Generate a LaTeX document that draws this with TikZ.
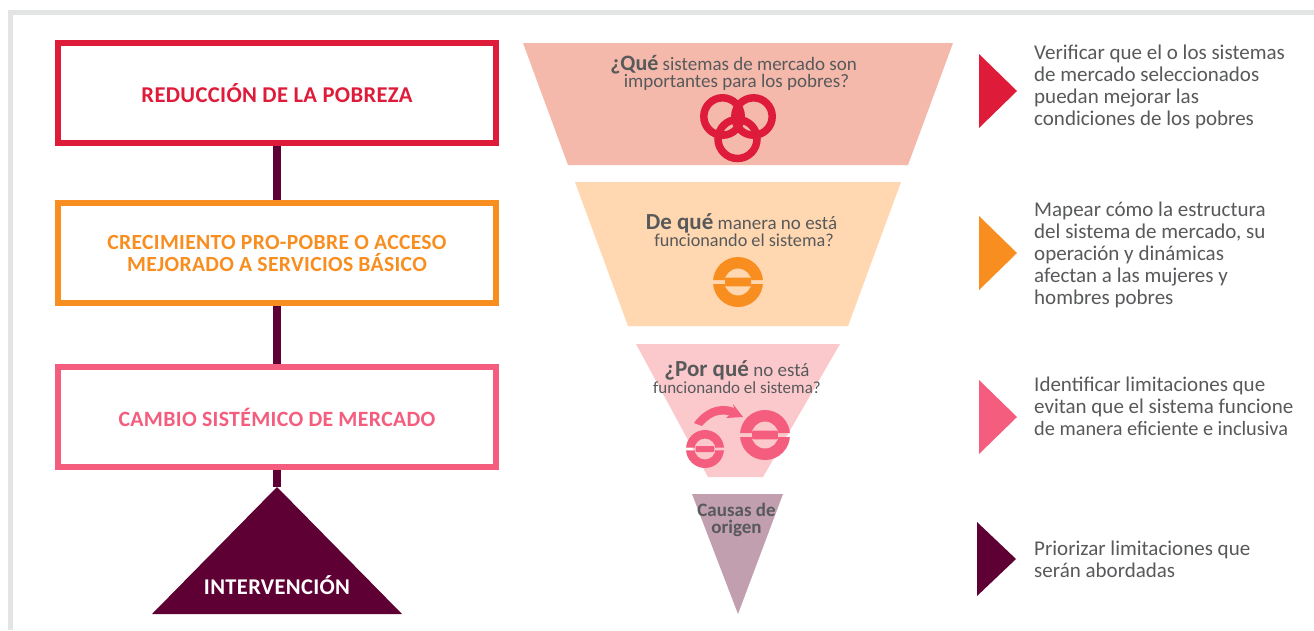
\documentclass[tikz,border=0pt]{standalone}
\usepackage{fontspec}
\setmainfont{Carlito}
\definecolor{cred}{HTML}{DF1B3A}
\definecolor{corange}{HTML}{F98E20}
\definecolor{cpink}{HTML}{F45D7D}
\definecolor{cplum}{HTML}{5E0033}
\definecolor{ctext}{HTML}{58595B}
\definecolor{cframe}{HTML}{E3E4E4}
\definecolor{tone1}{HTML}{F4B9AB}
\definecolor{tone2}{HTML}{FFD7B0}
\definecolor{tone3}{HTML}{FBC9CC}
\definecolor{tone4}{HTML}{C29FAF}
\newcommand{\capsfont}[1]{\fontsize{#1}{22}\selectfont\bfseries\addfontfeature{LetterSpace=1.5}}
\newcommand{\lead}[2][22]{{\fontsize{#1}{16.5}\selectfont\bfseries #2}}
% ring icon: centre x, centre y, outer r, inner r, bar half width, bar half height, half gap, colour
\newcommand{\ringicon}[8]{%
 \begin{scope}
 \clip (#1-#3-1,#2-#3-1) rectangle (#1+#3+1,#2-#7) (#1-#3-1,#2+#7) rectangle (#1+#3+1,#2+#3+1);
 \fill[#8,even odd rule] (#1,#2) circle (#3) (#1,#2) circle (#4);
 \end{scope}
 \fill[#8,rounded corners=1pt] (#1-#5,#2-#6) rectangle (#1+#5,#2+#6);
}
\tikzset{
 goalbox/.style={draw=#1,text=#1,line width=6pt,fill=white,minimum width=438pt,minimum height=100pt,inner sep=0pt,align=center},
 link/.style={cplum,line width=8pt},
 step text/.style={inner sep=0pt,align=center,text=ctext,font=\fontsize{19}{16.7}\selectfont},
 side text/.style={inner sep=0pt,align=left,anchor=west,text=ctext,font=\fontsize{21}{22}\selectfont},
}
\begin{document}
\begin{tikzpicture}[x=1pt,y=-1pt]
\useasboundingbox (0,0) rectangle (1314,630);
\fill[white] (0,0) rectangle (1314,630);
\fill[cframe] (8,10) rectangle (1314,630);
\fill[white] (13,15) rectangle (1314,630);
% left column
\coordinate (apex) at (277,487);
\node[goalbox=cred,font=\capsfont{22.6}] (a) at (277,93) {REDUCCIÓN DE LA POBREZA};
\node[goalbox=corange,font=\capsfont{21.6}] (b) at (277,253) {CRECIMIENTO PRO-POBRE O ACCESO\\MEJORADO A SERVICIOS BÁSICO};
\node[goalbox=cpink,font=\capsfont{21.8}] (c) at (277,417) {CAMBIO SISTÉMICO DE MERCADO};
\draw[link] (a.south) -- (b.north);
\draw[link] (b.south) -- (c.north);
\draw[link] (c.south) -- (apex);
\fill[cplum] (apex) -- (402,614) -- (152,614) -- cycle;
\node[inner sep=0pt,text=white,font=\capsfont{22.5}] (d) at (277,585) {INTERVENCIÓN};
% funnel
\fill[tone1] (523,43) -- (953,43) -- (908,165) -- (568,165) -- cycle;
\fill[tone2] (575,182) -- (901,182) -- (848,326) -- (628,326) -- cycle;
\fill[tone3] (636,344) -- (840,344) -- (763,477) -- (708,477) -- cycle;
\fill[tone4] (692,494) -- (783,494) -- (738,614) -- cycle;
\node[step text] (q1) at (733.5,73) {\lead{¿Qué} sistemas de mercado son\\\hspace*{6pt}importantes para los pobres?};
\node[step text] (q2) at (741.5,230) {\lead[23]{De qué} manera no está\\\hspace*{5pt}{\fontsize{18.2}{16.7}\selectfont funcionando el sistema?}};
\node[step text] (q3) at (737,377) {\lead[23]{¿Por qué} no está\\{\fontsize{17}{16.7}\selectfont funcionando el sistema?}};
\node[step text,font=\fontsize{19}{17}\selectfont\bfseries] (q4) at (736.5,520) {Causas de\\origen};
% icons
\draw[cred,line width=7.5pt] (722.5,116.5) circle (18.7) (753.5,116.5) circle (18.7) (737.5,139) circle (19.5);
\ringicon{738}{282}{25}{13.5}{13}{4.4}{2}{corange}
\ringicon{765}{435}{25}{13.5}{12.8}{4.4}{2}{cpink}
\ringicon{705}{449}{19}{10.5}{9.3}{3}{1.3}{cpink}
\fill[cpink] (694,423) .. controls (703,410) and (718,402) .. (734,408) -- (733,404) -- (743,417) -- (726,418) -- (729,415) .. controls (716,413) and (709,418) .. (702,426) -- cycle;
% side
\fill[cred] (979,54) -- (1017,91) -- (979,128) -- cycle;
\fill[corange] (979,216) -- (1017,253) -- (979,290) -- cycle;
\fill[cpink] (979,380) -- (1017,417) -- (979,454) -- cycle;
\fill[cplum] (977,522) -- (1016,559) -- (977,596) -- cycle;
\node[side text] (s1) at (1034,86.5) {Verificar que el o los sistemas\\de mercado seleccionados\\puedan mejorar las\\condiciones de los pobres};
\node[side text] (s2) at (1034,255) {Mapear cómo la estructura\\del sistema de mercado, su\\operación y dinámicas\\afectan a las mujeres y\\hombres pobres};
\node[side text] (s3) at (1034,406.5) {Identificar limitaciones que\\evitan que el sistema funcione\\{\fontsize{20.3}{22}\selectfont de manera eficiente e inclusiva}};
\node[side text] (s4) at (1034,559) {Priorizar limitaciones que\\serán abordadas};
\end{tikzpicture}
\end{document}
